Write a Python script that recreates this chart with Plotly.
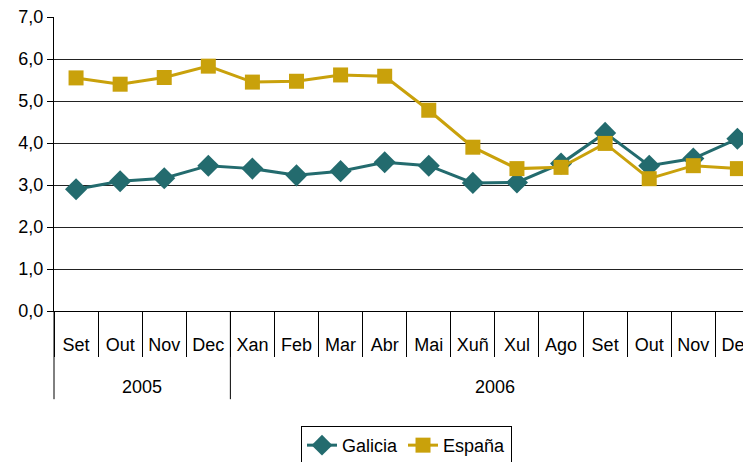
import plotly.graph_objects as go

years = ["2005"] * 4 + ["2006"] * 12
months = ["Set", "Out", "Nov", "Dec", "Xan", "Feb", "Mar", "Abr", "Mai", "Xuñ",
          "Xul", "Ago", "Set", "Out", "Nov", "Dec"]
galicia = [2.90, 3.09, 3.16, 3.46, 3.39, 3.23, 3.33, 3.54, 3.46, 3.05, 3.06,
           3.51, 4.24, 3.46, 3.63, 4.10]
espana = [5.55, 5.40, 5.56, 5.83, 5.45, 5.47, 5.62, 5.59, 4.78, 3.90, 3.39,
          3.42, 3.99, 3.15, 3.46, 3.39]

FONT = "Liberation Sans, Arial, sans-serif"
FS = 18
TEAL = "#236B6E"
GOLD = "#C9A10B"

idx = list(range(len(months)))

fig = go.Figure()
fig.add_trace(go.Scatter(
    x=idx, y=galicia, name="Galicia", mode="lines+markers",
    line=dict(color=TEAL, width=3),
    marker=dict(symbol="diamond", size=17, color=TEAL),
))
fig.add_trace(go.Scatter(
    x=idx, y=espana, name="España", mode="lines+markers",
    line=dict(color=GOLD, width=3),
    marker=dict(symbol="square", size=15, color=GOLD),
))

# year group annotations and separators
groups = []
for i, yv in enumerate(years):
    if not groups or groups[-1][0] != yv:
        groups.append([yv, i, i])
    else:
        groups[-1][2] = i

for name, a, b in groups:
    fig.add_annotation(
        x=(a + b) / 2, xref="x", y=0, yref="paper", yanchor="middle",
        yshift=-76, text=name, showarrow=False,
        font=dict(family=FONT, size=FS, color="black"),
    )
    if a == 0:
        sx, sref = 0, "paper"
    else:
        sx, sref = a - 0.5, "x"
    fig.add_shape(
        type="line", xref=sref, yref="paper", x0=sx, x1=sx,
        y0=0, y1=-0.30, line=dict(color="black", width=1),
    )

fig.update_layout(
    width=751, height=462,
    margin=dict(l=46, r=0, t=9, b=159, autoexpand=False),
    paper_bgcolor="white", plot_bgcolor="white",
    separators=",.",
    font=dict(family=FONT, size=FS, color="black"),
    showlegend=True,
    legend=dict(
        orientation="h", x=0.5, xanchor="center", y=-0.391, yanchor="top",
        bordercolor="black", borderwidth=1, font=dict(size=FS),
    ),
)
fig.update_xaxes(
    range=[-0.5, 15.49], automargin=False,
    tickmode="array", tickvals=idx, ticktext=months,
    ticklabeloverflow="allow",
    showline=True, linecolor="black", linewidth=1,
    showgrid=False, zeroline=False,
    ticks="", ticklabelstandoff=17,
    tickfont=dict(family=FONT, size=FS, color="black"),
    minor=dict(tick0=0.5, dtick=1, ticks="outside", ticklen=45,
               tickcolor="black", tickwidth=1, showgrid=False),
)
fig.update_yaxes(
    range=[0, 7], dtick=1, tickformat=".1f", automargin=False,
    ticklabeloverflow="allow",
    showline=True, linecolor="black", linewidth=1,
    showgrid=True, gridcolor="#222", gridwidth=1,
    ticks="outside", ticklen=6, tickcolor="black",
    tickfont=dict(family=FONT, size=FS, color="black"),
    zeroline=False,
)

fig.write_html("out.html")
